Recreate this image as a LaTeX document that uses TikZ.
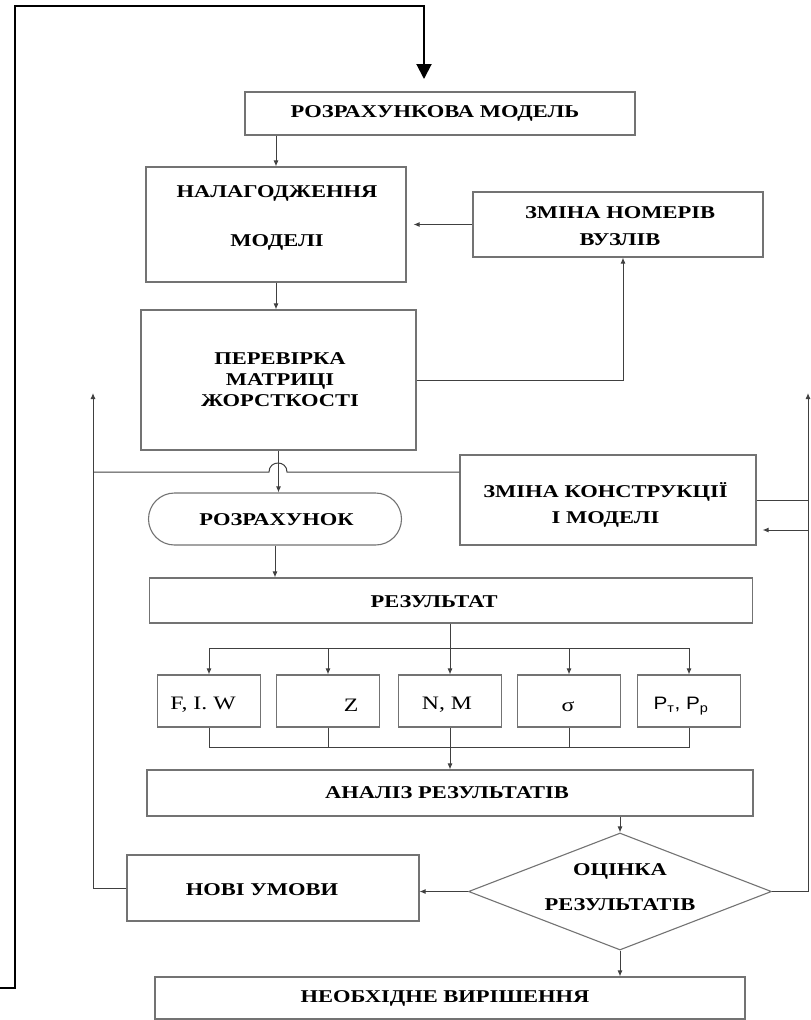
\documentclass[tikz,border=0pt]{standalone}
\usepackage{fontspec}
\setmainfont{Liberation Serif}[FakeStretch=1.25]
\newfontfamily\subsans{Liberation Sans}[FakeStretch=1.15]
\usetikzlibrary{arrows.meta,shapes.geometric}

\begin{document}
\begin{tikzpicture}[x=1pt,y=-1pt,
  frame/.style={draw=black!55, line width=1.1pt, fill=white, inner sep=0pt},
  cell/.style={frame, minimum width=103pt, minimum height=52pt},
  caption/.style={inner sep=0pt, align=center, font=\fontsize{18}{21}\selectfont\bfseries},
  plain/.style={inner sep=0pt, font=\fontsize{19}{22}\selectfont},
  link/.style={draw=black!75, line width=1pt},
  arr/.style={link, -{Latex[length=6pt,width=5pt]}},
  loopline/.style={draw=black, line width=2pt, -{Triangle[length=15pt,width=15pt]}}
]
\path[use as bounding box] (0,0) rectangle (811,1020);

% blocks
\node[frame, minimum width=390pt, minimum height=43pt] (model) at (440,113.5) {};
\node[frame, minimum width=260pt, minimum height=115pt] (setup) at (276,224.5) {};
\node[frame, minimum width=290pt, minimum height=65pt] (renum) at (618,224.5) {};
\node[frame, minimum width=275pt, minimum height=140pt] (check) at (278.5,380) {};
\node[frame, minimum width=253pt, minimum height=52pt, rounded corners=26pt] (calc) at (275,519) {};
\node[frame, minimum width=296pt, minimum height=90pt] (change) at (608,500) {};
\node[frame, minimum width=603pt, minimum height=45pt] (result) at (451,600.5) {};
\node[cell] (b1) at (209,701) {};
\node[cell] (b2) at (328,701) {};
\node[cell] (b3) at (450,701) {};
\node[cell] (b4) at (569,701) {};
\node[cell] (b5) at (689,701) {};
\node[frame, minimum width=606pt, minimum height=46pt] (analysis) at (450,793) {};
\node[frame, diamond, minimum width=303pt, minimum height=117pt] (dia) at (620,891.5) {};
\node[frame, minimum width=292pt, minimum height=66pt] (newcond) at (273,888) {};
\node[frame, minimum width=590pt, minimum height=42pt] (need) at (450,998) {};

% captions
\node[caption] (modelT) at (435,113) {РОЗРАХУНКОВА МОДЕЛЬ};
\node[caption] (setupT) at (277,218) {НАЛАГОДЖЕННЯ\\[28pt]МОДЕЛІ};
\node[caption] (renumT) at (620,226.5) {ЗМІНА НОМЕРІВ\\[6pt]ВУЗЛІВ};
\node[caption] (checkT) at (280,380) {ПЕРЕВІРКА\\МАТРИЦІ\\ЖОРСТКОСТІ};
\node[caption] (calcT) at (276.5,520) {РОЗРАХУНОК};
\node[caption] (changeT) at (605.5,505) {ЗМІНА КОНСТРУКЦІЇ\\[5pt]І МОДЕЛІ};
\node[caption] (resultT) at (434,602) {РЕЗУЛЬТАТ};
\node[plain] (b1T) at (203,705) {F, I. W};
\node[plain] (b2T) at (351,705) {Z};
\node[plain] (b3T) at (447,705) {N, M};
\node[plain] (b4T) at (568,707) {σ};
\node[inner sep=0pt, font=\subsans\fontsize{18}{20}\selectfont] (b5T) at (681,706) {P\textsubscript{т}, P\textsubscript{р}};
\node[caption] (analysisT) at (447,793) {АНАЛІЗ РЕЗУЛЬТАТІВ};
\node[caption] (diaT) at (620,887.5) {ОЦІНКА\\[14pt]РЕЗУЛЬТАТІВ};
\node[caption] (newcondT) at (262,890) {НОВІ УМОВИ};
\node[caption] (needT) at (445,998) {НЕОБХІДНЕ ВИРІШЕННЯ};

% junction points
\coordinate (loopS) at (0,988);
\coordinate (loopA) at (15,6);
\coordinate (loopE) at (424,79);
\coordinate (hopR) at (287,472);
\coordinate (hopL) at (269,472);
\coordinate (upJ) at (93,472);
\coordinate (upB) at (93,888);
\coordinate (upT) at (93,393);
\coordinate (split) at (450,648);
\coordinate (merge) at (450,747);
\coordinate (rT) at (808,393);
\coordinate (rIn) at (808,530);

% outer return loop
\draw[loopline] (loopS) -| (loopA) -| (loopE);

% main flow
\draw[arr] (model.south -| setup.north) -- (setup.north);
\draw[arr, shorten >=7pt] (renum.west) -- (renum.west -| setup.east);
\draw[arr] (setup.south) -- (setup.south |- check.north);
\draw[arr] (check.east) -| ([xshift=5pt]renum.south);
\draw[arr] (check.south) -- (check.south |- calc.north);
\draw[link] ([yshift=28pt]change.west) -- (hopR) .. controls +(0,-12) and +(0,-12) .. (hopL) -- (upJ);
\draw[arr] (newcond.west) -- (upB) -- (upT);
\draw[arr] (calc.south) -- (calc.south |- result.north);
\draw[arr] (result.south -| b3.north) -- (b3.north);
\draw[arr] (split) -| (b1.north);
\draw[arr] (split) -| (b2.north);
\draw[arr] (split) -| (b4.north);
\draw[arr] (split) -| (b5.north);
\draw[link] (b1.south) |- (merge);
\draw[link] (b2.south) |- (merge);
\draw[link] (b4.south) |- (merge);
\draw[link] (b5.south) |- (merge);
\draw[arr] (b3.south) -- (analysis.north);
\draw[arr] (analysis.south -| dia.north) -- (dia.north);
\draw[arr] (dia.west) -- (dia.west -| newcond.east);
\draw[arr] (dia.south) -- (dia.south |- need.north);
\draw[arr] (dia.east) -| (rT);
\draw[link] (change.east) -- (change.east -| rT);
\draw[arr, shorten >=6pt] (rIn) -- (rIn -| change.east);
\end{tikzpicture}
\end{document}
